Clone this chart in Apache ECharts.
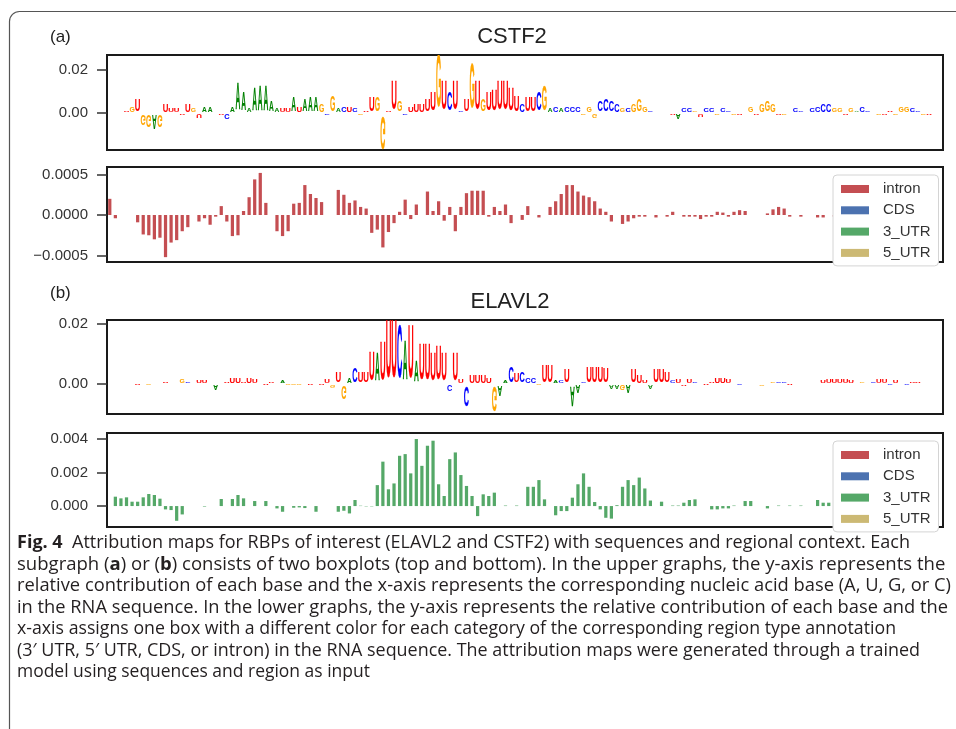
<!DOCTYPE html>
<html>
<head>
<meta charset="utf-8">
<script src="https://cdn.jsdelivr.net/npm/echarts@6/dist/echarts.min.js"></script>
<style>
html, body { margin: 0; padding: 0; background: #fff; }
#main { width: 956px; height: 729px; }
</style>
</head>
<body>
<div id="main"></div>
<script>
// sequence positions (150 nt window)
var positions = [];
for (var n = 0; n < 150; n++) positions.push(String(n));

// CSTF2 - top logo: base at each position + its attribution
var cstf2Bases =
  'UGUUGUGGAG' + 'UUUUUGUAAA' + 'UCAAAAAAAA' + 'AUUAUAAAGC' + 'GACUCGUUGG' +
  'UUGCUUUUUG' + 'UCUCUGUGUU' + 'UUUUCUUCGA' + 'CACCCGGGCC' + 'CCGCGGGCCC' +
  'CUACCGUCCG' + 'CCGUGGUGGG' + 'UGUCCUCCCC' + 'GGUGACCUGU' + 'UGGGCCGUGU';
var cstf2Logo = [
  0.0003, 0.0004, 0.0003, 0.001, 0.003, 0.006, -0.005, -0.006, -0.007, -0.006,
  0.004, 0.002, 0.002, -0.001, 0.004, 0.002, -0.002, 0.003, 0.003, 0.0005,
  -0.001, -0.003, 0.003, 0.013, 0.009, 0.002, 0.011, 0.012, 0.012, 0.005,
  0.002, 0.002, 0.002, 0.007, 0.003, 0.006, 0.007, 0.007, 0.004, -0.001,
  0.008, 0.002, 0.003, 0.003, 0.002, -0.001, 0.001, 0.007, 0.007, -0.016,
  0.001, 0.014, 0.005, -0.001, 0.003, 0.004, 0.004, 0.006, 0.009, 0.025,
  0.014, 0.009, 0.014, 0.001, 0.006, 0.0215, 0.014, 0.006, 0.009, 0.010,
  0.014, 0.014, 0.011, 0.008, 0.004, 0.007, 0.007, 0.009, 0.012, 0.002,
  0.003, 0.002, 0.003, 0.003, 0.003, -0.001, 0.003, -0.002, 0.005, 0.006,
  0.005, 0.004, 0.002, 0.002, 0.004, 0.006, 0.003, 0.001, 0.0006, 0.0006,
  0.0006, -0.001, -0.003, 0.002, 0.002, 0.001, -0.0015, 0.002, 0.002, -0.001,
  0.002, 0.001, -0.0008, -0.0008, 0.0006, 0.003, -0.001, 0.004, 0.005, 0.004,
  -0.001, -0.0008, 0.0005, 0.002, 0.001, -0.0005, 0.002, 0.003, 0.004, 0.004,
  0.002, 0.002, -0.0008, 0.002, 0.001, 0.003, 0.001, -0.0005, -0.001, -0.001,
  0.001, -0.001, 0.003, 0.003, 0.002, 0.001, -0.001, -0.001, 0.0005, -0.0005
];
// CSTF2 - region attribution (all intron)
var cstf2Intron = [
  0.0002, -0.00004, 0, 0, 0, -0.00009, -0.00024, -0.00025, -0.0003, -0.00028,
  -0.00052, -0.00034, -0.00031, -0.0002, -0.00015, 0, -0.00008, -0.00004, -0.00012, -0.00002,
  0.00011, -0.00008, -0.00026, -0.00025, 0.00005, 0.00022, 0.00044, 0.00052, 0.00015, 0,
  -0.0002, -0.00026, -0.0002, 0.00014, 0.00015, 0.00037, 0.00026, 0.00021, 0.00016, 0,
  0, 0.00031, 0.00025, 0.00015, 0.00018, 0.0001, 0.00008, -0.00022, -0.00018, -0.0004,
  -0.00021, -0.0001, 0.00004, 0.00019, -0.00005, 0.00013, 0, 0.00029, 0.00005, 0.00017,
  -0.00007, 0.0001, -0.0002, 0.0001, 0.00027, 0.0003, 0.0003, 0.0003, -0.00002, 0.0001,
  0.00005, 0.00013, -0.0001, 0, -0.00006, 0.00011, 0, -0.00003, 0, 0.0001,
  0.00017, 0.00026, 0.00037, 0.00037, 0.00029, 0.00024, 0.00022, 0.00017, 0.00008, 0.00004,
  -0.00008, 0, -0.00011, -0.00008, -0.00004, -0.00002, -0.00002, 0, -0.00003, 0,
  -0.00002, 0.00004, 0, -0.00002, -0.00002, -0.00002, -0.00005, -0.00002, -0.00002, 0.00004,
  0.00003, -0.00002, 0.00004, 0.00006, 0.00005, 0, 0, 0, 0.00002, 0.00007,
  0.0001, 0.00008, -0.00002, 0, -0.00002, 0, 0, -0.00003, -0.00003, 0,
  -0.00002, -0.00002, 0, 0, 0, 0, 0, 0, 0, 0,
  0, 0, 0, 0, 0, 0, 0, 0, 0, 0
];

// ELAVL2 - top logo
var elavl2Bases =
  'UUGUAUUGUA' + 'UUUGCUUUUA' + 'UUUUUUUAUU' + 'AAGGGUUCUU' + 'GUGACUUUAU' +
  'UUCAUAUUUU' + 'UCUUCUUUUG' + 'AACUCCCGUU' + 'ACUAACUUUU' + 'AAGAUUUAUU' +
  'UCUUUCCUUU' + 'UUACUUAGUG' + 'CCUUGUUAUU' + 'UUUUAGUCUU' + 'CUUCUUAAAU';
var elavl2Logo = [
  -0.0003, 0.0003, -0.0003, -0.0004, 0.0003, -0.0005, -0.0003, -0.0006, -0.0003, 0.0003,
  0.0005, -0.0004, 0.0003, 0.0015, 0.0008, -0.0004, 0.0012, 0.001, -0.0004, -0.002,
  0.0003, 0.0005, 0.002, 0.0018, 0.0005, 0.0018, 0.0015, 0.0004, -0.0005, 0.0008,
  0.0004, 0.001, -0.0005, -0.0006, -0.0006, -0.0004, -0.0005, -0.0004, -0.0006, 0.0015,
  -0.001, 0.0037, -0.0045, 0.002, 0.005, 0.0036, 0.0036, 0.0098, 0.0095, 0.013,
  0.0208, 0.0205, 0.018, 0.0135, 0.018, 0.0075, 0.0124, 0.0124, 0.0097, 0.012,
  0.0097, -0.0026, 0.0097, 0.0015, -0.007, 0.0027, 0.003, 0.0027, 0.002, -0.0087,
  -0.004, 0.001, 0.0055, 0.0035, 0.004, 0.002, 0.002, -0.0005, 0.0058, 0.0058,
  0.001, 0.001, 0.0047, -0.007, -0.003, 0.0005, 0.0054, 0.0054, 0.0054, 0.005,
  -0.0015, -0.0015, -0.002, -0.003, 0.0047, 0.003, 0.001, -0.0015, 0.0047, 0.0047,
  0.004, 0.001, 0.0015, -0.0008, 0.0015, 0.0005, 0.0004, -0.0006, 0.0005, 0.002,
  0.002, 0.0015, 0.0004, -0.0006, -0.0004, 0.0004, 0.0003, -0.0008, 0.0003, 0.0005,
  0.0006, 0.0005, -0.0005, 0.0004, 0.0004, -0.0004, 0.0003, 0.0003, 0.0012, 0.0014,
  0.0014, 0.0014, 0.0014, 0.0012, 0.0004, 0.0006, -0.0004, 0.0005, 0.0014, 0.0014,
  -0.0006, 0.0012, 0.0004, -0.0005, 0.0008, 0.0006, 0.0003, 0.0003, 0.0002, 0.0002
];
// ELAVL2 - region attribution (all 3_UTR)
var elavl2Utr3 = [
  0, 0.00056, 0.00046, 0.00052, 0.00026, 0.00026, 0.00052, 0.00072, 0.00066, 0.00044,
  -0.0002, -0.00024, -0.00088, -0.0005, 0, 0, 0, -0.00003, 0, 0,
  0.00042, 0, 0.00042, 0.00066, 0.00046, 0, 0.0003, 0, 0.0003, 0,
  -0.00014, -0.00034, 0, -0.0001, -0.00008, -0.00012, 0, -0.00034, 0, 0,
  0, -0.00034, -0.00028, -0.00044, 0.00036, 0.00002, -0.00002, -0.00002, 0.00125, 0.00265,
  0.001, 0.00135, 0.003, 0.0031, 0.00195, 0.004, 0.0024, 0.0036, 0.0039, 0.0013,
  0.0006, 0.0028, 0.0032, 0.00185, 0.0012, 0.0006, -0.0006, 0.0007, 0.0006, 0.0008,
  0, 0.00003, 0, 0.00003, 0, 0.00115, 0.00115, 0.00155, 0.0004, 0,
  -0.00055, -0.0003, -0.0003, 0.0005, 0.0013, 0.00195, 0.00115, 0.00024, -0.0002, -0.0007,
  -0.00075, 0.00005, 0.00115, 0.00155, 0.00125, 0.0017, 0.00105, 0.00033, 0, 0.00026,
  0, 0.00003, 0.00003, 0.0002, 0.00036, 0.0004, 0, 0, -0.0002, -0.0002,
  -0.00014, -0.00014, 0.00003, 0, 0.0003, 0.0003, 0, 0, -0.00014, 0,
  0.00003, 0, 0.00003, 0, 0.00003, 0, 0, 0.00036, 0.0002, 0.0002,
  0, 0, 0, 0, 0, 0, 0, 0, 0, 0,
  0, 0, 0, 0, 0, 0, 0, 0, 0, 0
];

var regionNames = ['intron', 'CDS', '3_UTR', '5_UTR'];
var regionColors = ['#c44e52', '#4c72b0', '#55a868', '#ccb974'];
var baseColors = { A: '#008000', C: '#0000ff', G: '#ffa500', U: '#ff0000' };
var baseInk = { A: 0.70, C: 0.64, G: 0.68, U: 0.60 }; // glyph ink width / em

var captionLines = [
  '{b|Fig. 4}  Attribution maps for RBPs of interest (ELAVL2 and CSTF2) with sequences and regional context. Each',
  'subgraph ({b|a}) or ({b|b}) consists of two boxplots (top and bottom). In the upper graphs, the y-axis represents the',
  'relative contribution of each base and the x-axis represents the corresponding nucleic acid base (A, U, G, or C)',
  'in the RNA sequence. In the lower graphs, the y-axis represents the relative contribution of each base and the',
  'x-axis assigns one box with a different color for each category of the corresponding region type annotation',
  '(3\u2032 UTR, 5\u2032 UTR, CDS, or intron) in the RNA sequence. The attribution maps were generated through a trained',
  'model using sequences and region as input'
];
var captionRight = [910, 948, 951, 948, 896, 920, 334];

var axisFont = '"Liberation Sans", Arial, sans-serif';
var capFont = '"Open Sans", "Noto Sans", sans-serif';
var capSize = 18;

// draw one stretched letter per position (flipped when negative)
function logoRender(bases) {
    return function (params, api) {
        var ch = bases.charAt(params.dataIndex);
        var x = api.value(0), v = api.value(1);
        var p0 = api.coord([x, 0]);
        var p1 = api.coord([x, v]);
        var w = api.size([1, 0])[0] * 0.84;
        var h = p0[1] - p1[1];
        var sign = h < 0 ? -1 : 1;
        var inkH = Math.max(Math.abs(h) - 0.8, 0.15);
        return {
            type: 'text',
            x: p0[0],
            y: (p0[1] + p1[1]) / 2,
            scaleX: w / (baseInk[ch] * 100),
            scaleY: sign * inkH / 72,
            silent: true,
            style: {
                text: ch,
                font: 'bold 100px ' + axisFont,
                fill: baseColors[ch],
                stroke: baseColors[ch],
                lineWidth: 0.9,
                strokeNoScale: true,
                align: 'center',
                verticalAlign: 'middle'
            }
        };
    };
}

function toXY(arr) {
    return arr.map(function (v, i) { return [i, v]; });
}

function yAxisDef(gi, min, max, ticks, fmt) {
    return {
        type: 'value', gridIndex: gi, min: min, max: max,
        splitLine: { show: false },
        axisLine: { show: true, lineStyle: { color: '#1a1a1a', width: 2 } },
        axisTick: { show: true, length: 10, customValues: ticks, lineStyle: { color: '#333', width: 1.5 } },
        axisLabel: { customValues: ticks, formatter: fmt, color: '#333', fontSize: 15, fontFamily: axisFont, margin: 19 }
    };
}

function xAxisDef(gi) {
    return {
        type: 'category', gridIndex: gi, data: positions, boundaryGap: true,
        axisLine: { show: false }, axisTick: { show: false }, axisLabel: { show: false }, splitLine: { show: false }
    };
}

function gridDef(top, height) {
    return {
        left: 107, top: top, width: 836, height: height, show: true,
        borderColor: '#1a1a1a', borderWidth: 2, backgroundColor: 'transparent',
        containLabel: false, outerBoundsMode: 'none'
    };
}

function regionSeries(axisIdx, dataName, data, stackId) {
    return regionNames.map(function (name, k) {
        return {
            type: 'bar', name: name, xAxisIndex: axisIdx, yAxisIndex: axisIdx,
            stack: stackId, barWidth: '58%', silent: true,
            itemStyle: { color: regionColors[k] },
            data: name === dataName ? data : []
        };
    });
}

function legendDef(top) {
    return {
        left: 833, top: top, orient: 'vertical', data: regionNames,
        icon: 'rect', itemWidth: 28, itemHeight: 8, itemGap: 5.3,
        padding: [6, 8, 5, 8],
        backgroundColor: '#fff', borderColor: '#d4d4d4', borderWidth: 1, borderRadius: 4,
        selectedMode: false,
        textStyle: { color: '#333', fontSize: 15, lineHeight: 16, fontFamily: axisFont, padding: [0, 0, 0, 9] }
    };
}

// caption: squeeze lines towards the original line ends, keeping the squeeze similar for all lines
var mctx = document.createElement('canvas').getContext('2d');
function measureLine(s) {
    var total = 0;
    s.split(/(\{b\|[^}]*\})/).forEach(function (part) {
        if (!part) return;
        var m = part.match(/^\{b\|([^}]*)\}$/);
        mctx.font = (m ? 'bold ' : '') + capSize + 'px ' + capFont;
        total += mctx.measureText(m ? m[1] : part).width;
    });
    return total;
}
var lineScales = captionLines.map(function (s, i) { return (captionRight[i] - 17) / measureLine(s); });
var sortedScales = lineScales.slice().sort(function (a, b) { return a - b; });
var midScale = sortedScales[Math.floor(sortedScales.length / 2)];

var graphics = [
    { type: 'rect', z: -1, silent: true, shape: { x: 9.5, y: 11.5, width: 1000, height: 1000, r: 10 },
      style: { fill: 'none', stroke: '#555', lineWidth: 1.2 } },
    { type: 'text', x: 50, y: 37, style: { text: '(a)', fontSize: 17, fontFamily: axisFont, fill: '#222', verticalAlign: 'middle' } },
    { type: 'text', x: 512, y: 37, style: { text: 'CSTF2', fontSize: 22, fontFamily: axisFont, fill: '#222', align: 'center', verticalAlign: 'middle' } },
    { type: 'text', x: 50, y: 293, style: { text: '(b)', fontSize: 17, fontFamily: axisFont, fill: '#222', verticalAlign: 'middle' } },
    { type: 'text', x: 510, y: 302, style: { text: 'ELAVL2', fontSize: 22, fontFamily: axisFont, fill: '#222', align: 'center', verticalAlign: 'middle' } }
];
captionLines.forEach(function (s, i) {
    var sc = Math.min(Math.max(lineScales[i], midScale * 0.97), midScale * 1.03);
    graphics.push({
        type: 'text', x: 17, y: 543 + i * 21.5, scaleX: sc,
        style: {
            text: s, fontSize: capSize, fontFamily: capFont, fill: '#231f20', verticalAlign: 'middle',
            rich: { b: { fontWeight: 'bold', fontSize: capSize, fontFamily: capFont, fill: '#231f20' } }
        }
    });
});

var option = {
    backgroundColor: '#fff',
    animation: false,
    grid: [gridDef(55, 95), gridDef(167, 95), gridDef(320, 94), gridDef(433, 94)],
    xAxis: [xAxisDef(0), xAxisDef(1), xAxisDef(2), xAxisDef(3)],
    yAxis: [
        yAxisDef(0, -0.0172, 0.027, [0, 0.02], function (v) { return v.toFixed(2); }),
        yAxisDef(1, -0.00058, 0.000593, [-0.0005, 0, 0.0005], function (v) {
            return (v < 0 ? '\u2212' : '') + Math.abs(v).toFixed(4);
        }),
        yAxisDef(2, -0.01, 0.0213, [0, 0.02], function (v) { return v.toFixed(2); }),
        yAxisDef(3, -0.00125, 0.00436, [0, 0.002, 0.004], function (v) { return v.toFixed(3); })
    ],
    legend: [legendDef(175), legendDef(441)],
    graphic: graphics,
    series: [].concat(
        [{ type: 'custom', name: 'CSTF2 logo', xAxisIndex: 0, yAxisIndex: 0, clip: true,
           renderItem: logoRender(cstf2Bases), data: toXY(cstf2Logo) }],
        regionSeries(1, 'intron', cstf2Intron, 'ra'),
        [{ type: 'custom', name: 'ELAVL2 logo', xAxisIndex: 2, yAxisIndex: 2, clip: true,
           renderItem: logoRender(elavl2Bases), data: toXY(elavl2Logo) }],
        regionSeries(3, '3_UTR', elavl2Utr3, 'rb')
    )
};

var myChart = echarts.init(document.getElementById('main'), null, { renderer: 'canvas' });
myChart.setOption(option);
</script>
</body>
</html>
